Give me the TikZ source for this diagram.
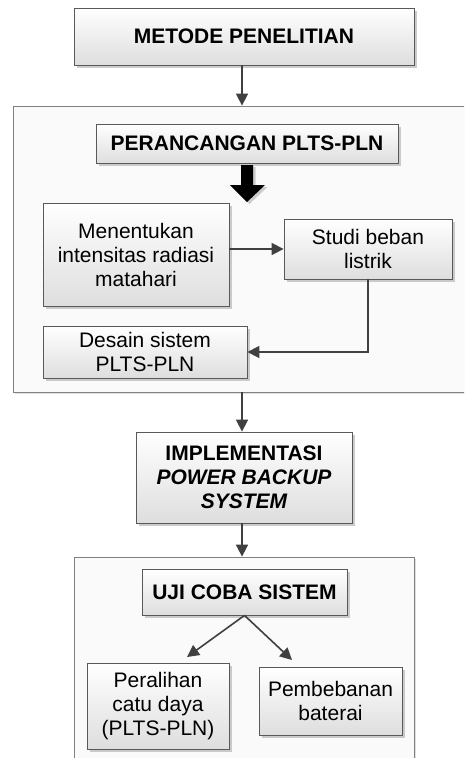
\documentclass[tikz,border=0pt]{standalone}
\usepackage{fontspec}
\setmainfont{Liberation Sans}
\usetikzlibrary{arrows.meta,shadows,calc}
\begin{document}
\begin{tikzpicture}[x=1pt,y=-1pt,
  every node/.style={font=\fontsize{21}{24}\selectfont, align=center, inner sep=0pt},
  box/.style={draw=black!65, line width=0.8pt, top color=white, bottom color=black!13,
    drop shadow={shadow xshift=2.5pt, shadow yshift=-2.5pt, fill=black!25, opacity=0.8}},
  cont/.style={draw=black!50, line width=0.8pt, fill=black!2,
    drop shadow={shadow xshift=2pt, shadow yshift=-2pt, fill=black!15, opacity=0.8}},
  arr/.style={draw=black!75, line width=1.6pt, -{Triangle[length=12pt,width=12pt]}},
  con/.style={draw=black!75, line width=1.6pt}]
\clip (0,0) rectangle (464,758);
\fill[white] (0,0) rectangle (464,758);
\coordinate (cx) at (242,0);
% containers
\node[cont, minimum width=470pt, minimum height=286pt] (cont1) at (248,249) {};
\node[cont, minimum width=340pt, minimum height=242pt] (cont2) at (244,678) {};
% boxes
\node[box, minimum width=340pt, minimum height=57pt] (metode) at (244,36.5) {\bfseries METODE PENELITIAN};
\node[box, minimum width=302pt, minimum height=39pt] (peranc) at (247,143.5) {\bfseries PERANCANGAN PLTS-PLN};
\node[box, minimum width=186pt, minimum height=103pt] (menent) at (136,254.5) {Menentukan\\intensitas radiasi\\matahari};
\node[box, minimum width=168pt, minimum height=60pt] (studi) at (368,249) {Studi beban\\listrik};
\node[box, minimum width=204pt, minimum height=52pt] (desain) at (145,352) {Desain sistem\\PLTS-PLN};
\node[box, minimum width=216pt, minimum height=91pt] (impl) at (244,477.5) {\bfseries IMPLEMENTASI\\\bfseries\itshape POWER BACKUP\\\bfseries\itshape SYSTEM};
\node[box, minimum width=205pt, minimum height=46pt] (uji) at (244.5,592) {\bfseries UJI COBA SISTEM};
\node[box, minimum width=142pt, minimum height=86pt] (peral) at (158,706) {Peralihan\\catu daya\\(PLTS-PLN)};
\node[box, minimum width=143pt, minimum height=68pt] (pembeb) at (330.5,701) {Pembebanan\\baterai};
% block arrow
\fill[black!20] (243.5,167) -- (255.5,167) -- (255.5,187) -- (267.5,187) -- (249.5,204) -- (232.5,187) -- (243.5,187) -- cycle;
\fill[black] (241,165) -- (253,165) -- (253,185) -- (265,185) -- (247,202) -- (230,185) -- (241,185) -- cycle;
% connectors
\draw[arr] (metode.south -| cx) -- (cont1.north -| cx);
\draw[arr] (studi.west -| menent.east) -- (studi.west);
\draw[arr] (studi.south) |- (desain.east);
\draw[arr] (cont1.south -| cx) -- (impl.north -| cx);
\draw[arr] (impl.south -| cx) -- (cont2.north -| cx);
\coordinate (t1) at (187,657);
\coordinate (t2) at (292,660);
\draw[arr] (uji.south) -- (t1);
\draw[arr] (uji.south) -- (t2);
\end{tikzpicture}
\end{document}
